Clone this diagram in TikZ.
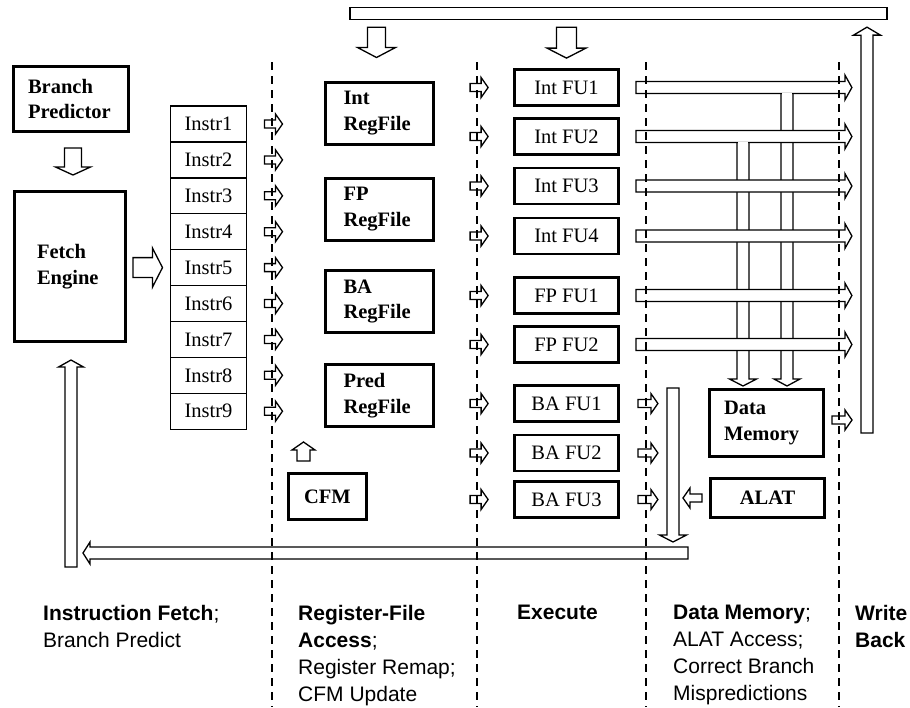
\documentclass[tikz,border=0pt]{standalone}
\usepackage{fontspec}
\setmainfont{Liberation Serif}
\setsansfont{Liberation Sans}
\usetikzlibrary{calc,positioning}

\newcommand\boxfont{\fontsize{20.5}{25.5}\selectfont}
\newcommand\stagefont{\sffamily\fontsize{21}{27}\selectfont}

\tikzset{
  unitbox/.style={draw, line width=3pt, font=\boxfont\bfseries, align=left, inner sep=0pt},
  fubox/.style={draw, line width=2.8pt, minimum width=104pt, minimum height=36pt, inner sep=0pt, font=\boxfont},
  slot/.style={draw, line width=1.3pt, minimum width=76pt, minimum height=35.9pt, inner sep=0pt, outer sep=0pt, font=\boxfont},
  % 空心箭头: 杆半宽, 头半宽, 头长
  blk/.style n args={3}{draw, fill=white, line width=1.3pt,
    to path={let \p1=(\tikztostart), \p2=(\tikztotarget),
      \n1={atan2(\y2-\y1,\x2-\x1)}, \n2={veclen(\x2-\x1,\y2-\y1)},
      \n3={atan2(#2,#3)}, \n4={veclen(#2,#3)} in
      ++(\n1+90:#1) -- ++(\n1:\n2-#3) -- ++(\n1+90:#2-#1) -- (\p2)
      -- ++(\n1+180+\n3:\n4) -- ++(\n1+90:#2-#1) -- ++(\n1+180:\n2-#3) -- cycle}},
  latch/.style={blk={4pt}{10pt}{7pt}},
  stage/.style={line width=1.3pt, dash pattern=on 8pt off 6pt},
  stagelabel/.style={font=\stagefont, align=left, anchor=north west, inner sep=0pt},
}

\begin{document}
\begin{tikzpicture}[x=1pt, y=-1pt]
    \useasboundingbox (0,0) rectangle (910,707);

    % 顶部总线
    \node[draw, line width=1.3pt, minimum width=537pt, minimum height=12pt, inner sep=0pt] (bus) at (618.5,13.5) {};

    % 取指
    \node[unitbox, minimum width=115pt, minimum height=65pt, text width=86pt] (bp) at (71,99) {Branch\\Predictor};
    \node[unitbox, minimum width=111pt, minimum height=150pt, text width=66pt] (fetch) at (70,266.5) {Fetch\\Engine};

    % 指令队列
    \node[slot] (i1) at (208.5,124) {Instr1};
    \foreach \i [remember=\i as \last (initially 1)] in {2,...,9}
        \node[slot, below=0pt of i\last] (i\i) {Instr\i};

    % 寄存器堆
    \foreach \nm/\txt/\yy in {irf/Int/113, frf/FP/209, brf/BA/301.5, prf/Pred/395.5}
        \node[unitbox, minimum width=108pt, minimum height=62pt, text width=72pt] (\nm) at (379.5,\yy) {\txt\\RegFile};
    \node[unitbox, minimum width=78pt, minimum height=46pt, align=center] (cfm) at (327.5,496.5) {CFM};

    % 执行单元
    \foreach \nm/\txt/\yy in {fu1/Int FU1/87.5, fu2/Int FU2/136.5, fu3/Int FU3/186, fu4/Int FU4/236,
                             fu5/FP FU1/295.5, fu6/FP FU2/344.5, fu7/BA FU1/403.5, fu8/BA FU2/453, fu9/BA FU3/499.5}
        \node[fubox] (\nm) at (566.5,\yy) {\txt};

    % 数据存储
    \node[unitbox, minimum width=114pt, minimum height=67pt, text width=85pt] (dm) at (766.5,423) {Data\\Memory};
    \node[unitbox, minimum width=114pt, minimum height=39pt, align=center] (alat) at (767.5,498) {ALAT};

    % 访存通路
    \coordinate (tap1) at (fu1 -| 787,0);
    \coordinate (tap2) at (fu2 -| 743,0);
    \draw[blk={6pt}{13pt}{7pt}] (tap1) to ($(tap1 |- dm.north)+(0,-2)$);
    \draw[blk={6pt}{13.5pt}{7pt}] (tap2) to ($(tap2 |- dm.north)+(0,-2)$);

    % 结果总线
    \foreach \k in {1,...,6}
        \draw[blk={6pt}{12.5pt}{7pt}] ($(fu\k.east)+(16,0)$) to ($(fu\k.east)+(232,0)$);
    \fill[white] ($(tap1)+(-5.3,5)$) rectangle ($(tap1)+(5.3,7.5)$);
    \fill[white] ($(tap2)+(-5.3,5)$) rectangle ($(tap2)+(5.3,7.5)$);

    % 其余箭头
    \draw[blk={8.5pt}{17.5pt}{8pt}] ($(bp.south)+(2,15)$) to ($(bp.south |- fetch.north)+(2,-15)$);
    \draw[blk={10pt}{19.5pt}{10pt}] ($(fetch.east |- i5)+(6,0)$) to ($(i5.west)+(-8,0)$);
    \draw[blk={9pt}{19pt}{10pt}] ($(bus.south -| irf)+(-3,7)$) to ($(irf.north)+(-3,-23)$);
    \draw[blk={10pt}{19.5pt}{10pt}] ($(bus.south -| fu1)+(0,7)$) to ($(fu1.north)+(0,-10)$);
    \draw[blk={6.5pt}{11.5pt}{8pt}] ($(cfm.north)+(-24,-11)$) to ($(cfm.north)+(-24,-30)$);

    \foreach \i in {1,...,9}
        \draw[latch] ($(i\i.east)+(18,0)$) to ($(i\i.east)+(36,0)$);
    \foreach \k in {1,...,9}
        \draw[latch] ($(fu\k.west)+(-43,0)$) to ($(fu\k.west)+(-25,0)$);
    \foreach \k in {7,8,9}
        \draw[latch] ($(fu\k.east)+(18,0)$) to ($(fu\k.east)+(38,0)$);
    \draw[latch] ($(alat.west)+(-7,0)$) to ($(alat.west)+(-26,0)$);
    \draw[latch] ($(dm.east)+(7,-3)$) to ($(dm.east)+(27,-3)$);

    % 回写与冲刷
    \coordinate (wb) at (867,433);
    \coordinate (fbR) at (688,553);
    \coordinate (fbL) at (83,553);
    \draw[blk={6pt}{13.5pt}{8pt}] (wb) to ($(bus.south -| wb)+(0,7)$);
    \draw[blk={6pt}{13.5pt}{7pt}] (dm.north -| 673,0) to ($(fbR -| 673,0)+(0,-11)$);
    \draw[blk={6pt}{11pt}{7pt}] (fbR) to (fbL);
    \draw[blk={6pt}{12.5pt}{7pt}] ($(fbL -| fetch)+(1,14)$) to ($(fetch.south)+(1,17)$);

    % 流水级分界
    \foreach \x in {272,477,646,839}
        \draw[stage] (\x,62) -- (\x,707);

    % 流水级名称
    \node[stagelabel] (lf) at (43,605) {\textbf{Instruction Fetch};\\Branch Predict};
    \node[stagelabel] (lr) at (298,605) {\textbf{Register-File}\\\textbf{Access};\\Register Remap;\\CFM Update};
    \node[stagelabel] (le) at (517,605) {\textbf{Execute}};
    \node[stagelabel] (ld) at (673,605) {\textbf{Data Memory};\\ALAT Access;\\Correct Branch\\Mispredictions};
    \node[stagelabel] (lw) at (855,605) {\textbf{Write}\\\textbf{Back}};
\end{tikzpicture}
\end{document}
